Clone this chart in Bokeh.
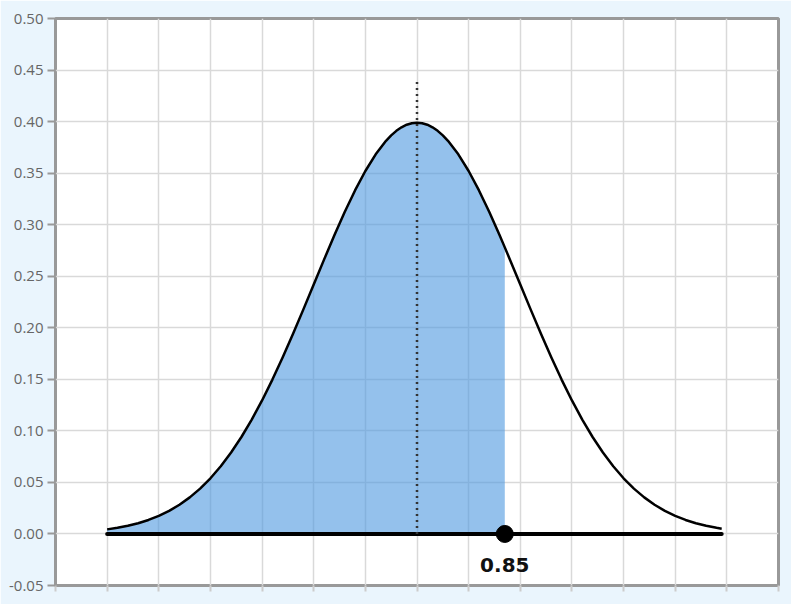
from bokeh.plotting import figure
from bokeh.models import FixedTicker, NumeralTickFormatter, Range1d, CustomJSTickFormatter
from bokeh.core.properties import value
from bokeh.embed import file_html
from bokeh.resources import INLINE

# standard normal density
curve_x = [-3.0, -2.9, -2.8, -2.7, -2.6, -2.5, -2.4, -2.3, -2.2, -2.1,
           -2.0, -1.9, -1.8, -1.7, -1.6, -1.5, -1.4, -1.3, -1.2, -1.1,
           -1.0, -0.9, -0.8, -0.7, -0.6, -0.5, -0.4, -0.3, -0.25, -0.2, -0.15, -0.1, -0.05,
           0.0, 0.05, 0.1, 0.15, 0.2, 0.25, 0.3, 0.4, 0.5, 0.6, 0.7, 0.8, 0.85, 0.9,
           1.0, 1.1, 1.2, 1.3, 1.4, 1.5, 1.6, 1.7, 1.8, 1.9,
           2.0, 2.1, 2.2, 2.3, 2.4, 2.5, 2.6, 2.7, 2.8, 2.9, 2.95]
curve_y = [0.00443, 0.00595, 0.00792, 0.01042, 0.01358, 0.01753, 0.02239, 0.02833, 0.03547, 0.04398,
           0.05399, 0.06562, 0.07895, 0.09405, 0.11092, 0.12952, 0.14973, 0.17137, 0.19419, 0.21785,
           0.24197, 0.26609, 0.28969, 0.31225, 0.33322, 0.35207, 0.36827, 0.38139, 0.38667, 0.39104, 0.39448, 0.39695, 0.39844,
           0.39894, 0.39844, 0.39695, 0.39448, 0.39104, 0.38667, 0.38139, 0.36827, 0.35207, 0.33322, 0.31225, 0.28969, 0.27798, 0.26609,
           0.24197, 0.21785, 0.19419, 0.17137, 0.14973, 0.12952, 0.11092, 0.09405, 0.07895, 0.06562,
           0.05399, 0.04398, 0.03547, 0.02833, 0.02239, 0.01753, 0.01358, 0.01042, 0.00792, 0.00595, 0.00514]

cutoff = 0.85
cutoff_label = "0.85"
mean_x = 0.0
mean_line_top = 0.44
y_ticks = [-0.05, 0.0, 0.05, 0.10, 0.15, 0.20, 0.25, 0.30, 0.35, 0.40, 0.45, 0.50]
x_ticks = [-3.5, -3.0, -2.5, -2.0, -1.5, -1.0, -0.5, 0.0, 0.5, 1.0, 1.5, 2.0, 2.5, 3.0, 3.5]

p = figure(width=791, height=604, output_backend="svg", toolbar_location=None,
           x_range=Range1d(-3.5, 3.5), y_range=Range1d(-0.05, 0.50),
           min_border_left=55, min_border_right=13, min_border_top=18, min_border_bottom=19)

p.border_fill_color = "#eaf5fd"
p.background_fill_color = "white"
p.outline_line_color = "#999999"
p.outline_line_width = 3

# grid
p.xgrid.ticker = FixedTicker(ticks=x_ticks)
p.ygrid.ticker = FixedTicker(ticks=y_ticks)
for g in (p.xgrid, p.ygrid):
    g.grid_line_color = "#d9d9d9"
    g.grid_line_width = 1.5

# y axis
p.yaxis.ticker = FixedTicker(ticks=y_ticks)
p.yaxis.formatter = NumeralTickFormatter(format="0.00")
p.yaxis.axis_line_color = None
p.yaxis.major_tick_line_color = "#999999"
p.yaxis.major_tick_line_width = 2
p.yaxis.major_tick_out = 8
p.yaxis.major_tick_in = 0
p.yaxis.minor_tick_line_color = None
p.yaxis.major_label_standoff = 4
p.yaxis.major_label_text_font = "Open Sans"
p.yaxis.major_label_text_font_size = "15px"
p.yaxis.major_label_text_color = "#666666"

# x axis: ticks only, no labels
p.xaxis.ticker = FixedTicker(ticks=x_ticks)
p.xaxis.formatter = CustomJSTickFormatter(code="return ''")
p.xaxis.axis_line_color = None
p.xaxis.major_tick_line_color = "#cccccc"
p.xaxis.major_tick_line_width = 2
p.xaxis.major_tick_out = 6
p.xaxis.major_tick_in = 0
p.xaxis.minor_tick_line_color = None
p.xaxis.major_label_standoff = 0

# shaded area up to the cutoff
shade_x = [x for x in curve_x if x <= cutoff]
shade_y = curve_y[:len(shade_x)]
p.varea(x=shade_x, y1=[0] * len(shade_x), y2=shade_y, fill_color="#4c98e0", fill_alpha=0.6)

# curve
p.line(curve_x, curve_y, line_color="black", line_width=2.5, line_join="round")

# baseline
p.line([curve_x[0], curve_x[-1]], [0, 0], line_color="black", line_width=4, line_cap="round")

# mean dotted line
p.line([mean_x, mean_x], [0, mean_line_top], line_color="#333333", line_width=2.5, line_dash="2 4")

# cutoff point and label
p.scatter([cutoff], [0], size=17, color="black")
p.text(x=[cutoff], y=[-0.0305], text=[cutoff_label], text_align="center", text_baseline="middle",
       text_font=value("DejaVu Sans"), text_font_size="20px", text_font_style="bold", text_color="#111111")

open("out.html", "w").write(file_html(p, INLINE))
